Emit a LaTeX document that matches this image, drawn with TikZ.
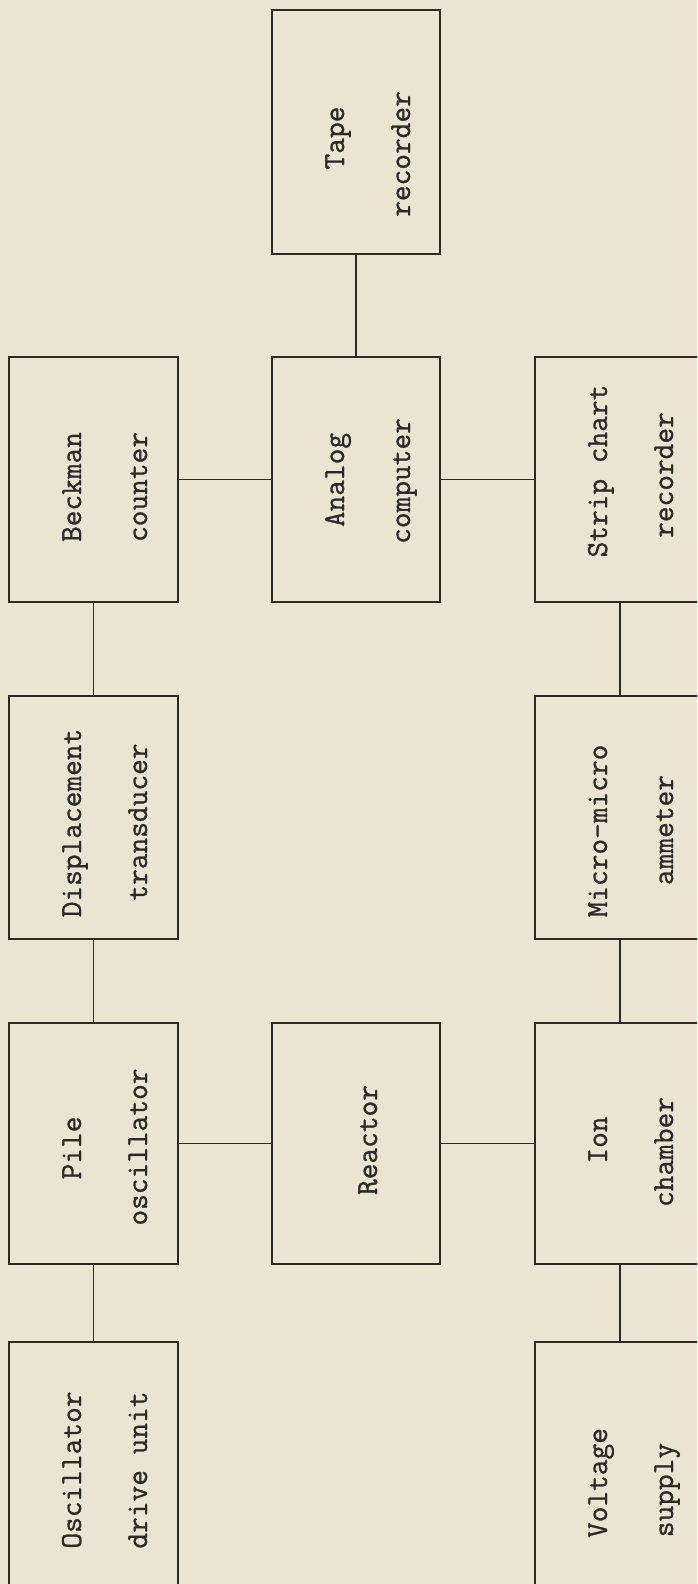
\documentclass[tikz,border=0pt]{standalone}
\usepackage{fontspec}
\newfontfamily\tw{Latin Modern Mono}[FakeBold=0.9]
\definecolor{paper}{HTML}{EAE4D3}
\definecolor{ink}{HTML}{2B2A26}
\begin{document}
\begin{tikzpicture}[x=1pt,y=-1pt,
  box/.style={draw=ink,line width=1.9pt,anchor=north west,inner sep=0pt,outer sep=0pt},
  txt/.style={rotate=90,anchor=base,inner sep=0pt,text=ink,font=\tw\fontsize{30.5}{30.5}\selectfont},
  wire/.style={draw=ink,line width=1.6pt}]
\fill[paper] (0,0) rectangle (697,1584);
\useasboundingbox (0,0) rectangle (697,1584);
\clip (0,0) rectangle (697,1584);
% boxes
\node[box,minimum width=168pt,minimum height=244pt] (tape) at (272,10) {};
\node[box,minimum width=169pt,minimum height=245pt] (beck) at (9,357) {};
\node[box,minimum width=168pt,minimum height=245pt] (analog) at (272,357) {};
\node[box,minimum width=170pt,minimum height=245pt] (strip) at (535,357) {};
\node[box,minimum width=169pt,minimum height=243pt] (disp) at (9,696) {};
\node[box,minimum width=170pt,minimum height=243pt] (micro) at (535,696) {};
\node[box,minimum width=169pt,minimum height=241pt] (pile) at (9,1023) {};
\node[box,minimum width=168pt,minimum height=241pt] (reactor) at (272,1023) {};
\node[box,minimum width=170pt,minimum height=241pt] (ion) at (535,1023) {};
\node[box,minimum width=169pt,minimum height=260pt] (drive) at (9,1342) {};
\node[box,minimum width=170pt,minimum height=260pt] (volt) at (535,1342) {};
% texts
\node[txt] (tapeA) at (344,138) {Tape};
\node[txt] (tapeB) at (410,154) {recorder};
\node[txt] (beckA) at (81,487) {Beckman};
\node[txt] (beckB) at (147,487) {counter};
\node[txt] (analogA) at (344,480) {Analog};
\node[txt] (analogB) at (410,481) {computer};
\node[txt] (stripA) at (607,471) {Strip chart};
\node[txt] (stripB) at (673,475) {recorder};
\node[txt] (dispA) at (81,823) {Displacement};
\node[txt] (dispB) at (147,822) {transducer};
\node[txt] (microA) at (607,831) {Micro-micro};
\node[txt] (microB) at (673,830) {ammeter};
\node[txt] (pileA) at (81,1148) {Pile};
\node[txt] (pileB) at (147,1147) {oscillator};
\node[txt] (reactorA) at (377,1140) {Reactor};
\node[txt] (ionA) at (607,1140) {Ion};
\node[txt] (ionB) at (673,1152) {chamber};
\node[txt] (driveA) at (81,1470) {Oscillator};
\node[txt] (driveB) at (147,1470) {drive unit};
\node[txt] (voltA) at (607,1483) {Voltage};
\node[txt] (voltB) at (673,1490) {supply};
% connectors
\draw[wire] (tape.south) -- (analog.north);
\draw[wire] (beck.east) -- (analog.west);
\draw[wire] (analog.east) -- (strip.west);
\draw[wire] (beck.south) -- (disp.north);
\draw[wire] (strip.south) -- (micro.north);
\draw[wire] (disp.south) -- (pile.north);
\draw[wire] (micro.south) -- (ion.north);
\draw[wire] (pile.east) -- (reactor.west);
\draw[wire] (reactor.east) -- (ion.west);
\draw[wire] (pile.south) -- (drive.north);
\draw[wire] (ion.south) -- (volt.north);
\end{tikzpicture}
\end{document}
